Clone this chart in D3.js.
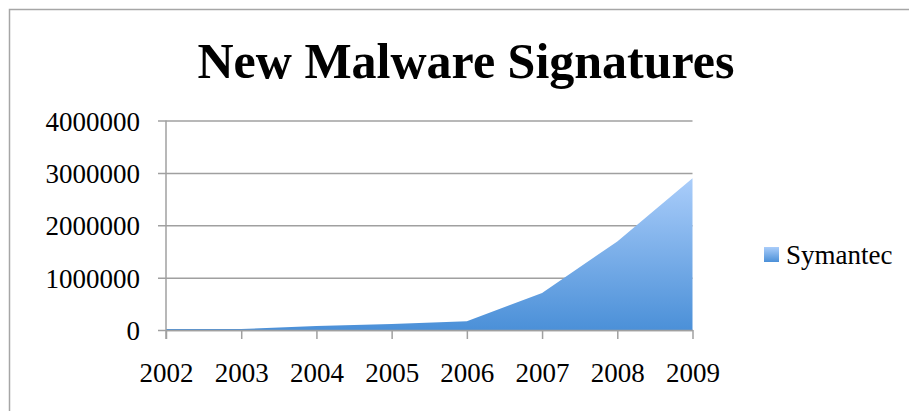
<!DOCTYPE html>
<html>
<head>
<meta charset="utf-8">
<script src="https://cdn.jsdelivr.net/npm/d3@7"></script>
<style>
  html, body { margin: 0; padding: 0; background: #fff; }
  svg { display: block; font-family: "Liberation Serif", "DejaVu Serif", serif; }
</style>
</head>
<body>
<svg id="chart" width="909" height="411"></svg>
<script>
// chart data
var years = ['2002', '2003', '2004', '2005', '2006', '2007', '2008', '2009']
var symantec = [20547, 19159, 74981, 113025, 167069, 708742, 1691323, 2895802]
var yTicks = [0, 1000000, 2000000, 3000000, 4000000]
var seriesName = 'Symantec'
var title = 'New Malware Signatures'

var svg = d3.select('#chart')

// outer frame (only top and left edges fall inside the picture)
svg.append('path')
  .attr('d', 'M9.5,411V9.5H909')
  .attr('fill', 'none')
  .attr('stroke', '#a6a6a6')
  .attr('stroke-width', 1.5)

// gradient for the area and legend key
var defs = svg.append('defs')
var grad = defs.append('linearGradient')
  .attr('id', 'fillGrad')
  .attr('x1', 0).attr('y1', 0).attr('x2', 0).attr('y2', 1)
grad.append('stop').attr('offset', '0%').attr('stop-color', '#aacdfa')
grad.append('stop').attr('offset', '100%').attr('stop-color', '#4b90d8')

// scales
var x = d3.scalePoint()
  .domain(years)
  .range([166, 692.5])

var y = d3.scaleLinear()
  .domain([0, 4000000])
  .range([330, 120.5])

// gridlines + y labels
var yAxis = svg.append('g')
  .attr('transform', 'translate(692.5,0)')
  .call(d3.axisLeft(y)
    .tickValues(yTicks)
    .tickFormat(d3.format('d'))
    .tickSize(692.5 - 158)
    .tickPadding(18))
yAxis.select('.domain').remove()
yAxis.selectAll('line')
  .attr('stroke', '#a0a0a0')
  .attr('stroke-width', 1.5)
yAxis.selectAll('text')
  .attr('font-size', 27)
  .attr('font-family', '"Liberation Serif", serif')
  .attr('fill', '#000')
  .attr('dy', '0.36em')

// the area
var data = years.map(function (yr, i) { return {year: yr, value: symantec[i]} })
var area = d3.area()
  .x(function (d) { return x(d.year) })
  .y0(y(0))
  .y1(function (d) { return y(d.value) })

svg.append('path')
  .datum(data)
  .attr('d', area)
  .attr('fill', 'url(#fillGrad)')

// vertical axis line
svg.append('line')
  .attr('x1', 166).attr('x2', 166)
  .attr('y1', y(4000000)).attr('y2', 339)
  .attr('stroke', '#a0a0a0')
  .attr('stroke-width', 1.5)

// x axis
var xAxis = svg.append('g')
  .attr('transform', 'translate(0,' + y(0) + ')')
  .call(d3.axisBottom(x)
    .tickSize(9)
    .tickSizeOuter(0)
    .tickPadding(24))
xAxis.select('.domain')
  .attr('stroke', '#a0a0a0')
  .attr('stroke-width', 1.5)
xAxis.selectAll('line')
  .attr('stroke', '#a0a0a0')
  .attr('stroke-width', 1.5)
xAxis.selectAll('text')
  .attr('font-size', 27)
  .attr('font-family', '"Liberation Serif", serif')
  .attr('fill', '#000')

// title
svg.append('text')
  .attr('x', 466)
  .attr('y', 78)
  .attr('text-anchor', 'middle')
  .attr('font-size', 50)
  .attr('font-weight', 'bold')
  .attr('fill', '#000')
  .text(title)

// legend
var legend = svg.append('g').attr('transform', 'translate(764,247)')
legend.append('rect')
  .attr('width', 15)
  .attr('height', 15)
  .attr('fill', 'url(#fillGrad)')
legend.append('text')
  .attr('x', 22)
  .attr('y', 17)
  .attr('font-size', 27)
  .attr('fill', '#000')
  .text(seriesName)
</script>
</body>
</html>
